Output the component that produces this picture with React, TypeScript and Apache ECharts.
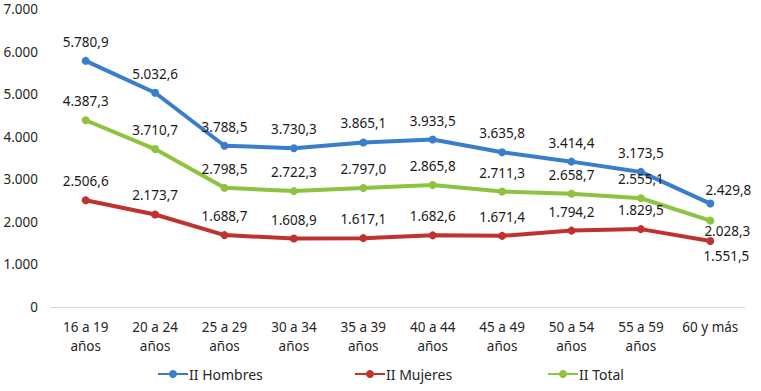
import React, { useEffect, useRef } from "react";
import * as echarts from "echarts";

const categories = [
  "16 a 19\naños",
  "20 a 24\naños",
  "25 a 29\naños",
  "30 a 34\naños",
  "35 a 39\naños",
  "40 a 44\naños",
  "45 a 49\naños",
  "50 a 54\naños",
  "55 a 59\naños",
  "60 y más",
];
const hombres = [5780.9, 5032.6, 3788.5, 3730.3, 3865.1, 3933.5, 3635.8, 3414.4, 3173.5, 2429.8];
const mujeres = [2506.6, 2173.7, 1688.7, 1608.9, 1617.1, 1682.6, 1671.4, 1794.2, 1829.5, 1551.5];
const total = [4387.3, 3710.7, 2798.5, 2722.3, 2797.0, 2865.8, 2711.3, 2658.7, 2555.1, 2028.3];
const seriesNames = ["II Hombres", "II Mujeres", "II Total"];

function fmtThousands(n: number): string {
  const s = Math.floor(Math.abs(n)).toString();
  return s.replace(/\B(?=(\d{3})+(?!\d))/g, ".");
}
function fmtValue(n: number): string {
  const intPart = fmtThousands(n);
  const dec = Math.round((n - Math.floor(n)) * 10);
  return intPart + "," + dec;
}

const FONT = "Noto Sans";

export default function App() {
  const ref = useRef<HTMLDivElement>(null);
  useEffect(() => {
    if (!ref.current) return;
    const chart = echarts.init(ref.current, null, { renderer: "svg" });
    const mk = (name: string, values: number[], color: string, lastOffset: number[]) => ({
      name,
      type: "line",
      data: values.map((v, i) =>
        i === values.length - 1
          ? { value: v, label: { offset: lastOffset } }
          : { value: v }
      ),
      symbol: "circle",
      symbolSize: 8,
      lineStyle: { width: 4, color },
      itemStyle: { color },
      label: {
        show: true,
        position: "top",
        distance: 8,
        fontFamily: FONT,
        fontSize: 13.5,
        color: "#1a1a1a",
        formatter: (p: any) => fmtValue(p.value),
      },
    });
    const legendAt = (name: string, left: number) => ({
      bottom: 10,
      left,
      itemGap: 0,
      itemWidth: 30,
      itemHeight: 10,
      padding: 0,
      textStyle: { fontFamily: FONT, fontSize: 14, color: "#262626", padding: [0, 0, 0, -4] },
      data: [name],
    });
    chart.setOption({
      animation: false,
      grid: { left: 51, right: 16, top: 9, bottom: 84 },
      legend: [
        legendAt(seriesNames[0], 157),
        legendAt(seriesNames[1], 354),
        legendAt(seriesNames[2], 547),
      ],
      xAxis: {
        type: "category",
        data: categories,
        boundaryGap: true,
        axisLine: { lineStyle: { color: "#d9d9d9", width: 1 } },
        axisTick: { show: false },
        axisLabel: {
          fontFamily: FONT,
          fontSize: 13.5,
          color: "#262626",
          margin: 10,
          lineHeight: 19,
          interval: 0,
        },
      },
      yAxis: {
        type: "value",
        min: 0,
        max: 7000,
        interval: 1000,
        axisLine: { show: false },
        axisTick: { show: false },
        splitLine: { show: false },
        axisLabel: {
          fontFamily: FONT,
          fontSize: 13.5,
          color: "#262626",
          margin: 13,
          formatter: (v: number) => fmtThousands(v),
        },
      },
      series: [
        mk(seriesNames[0], hombres, "#3a7dcc", [18, 5]),
        mk(seriesNames[1], mujeres, "#c0322d", [16, 34]),
        mk(seriesNames[2], total, "#8dc33f", [17, 29]),
      ],
    });
    return () => chart.dispose();
  }, []);
  return (
    <div
      ref={ref}
      style={{ position: "fixed", left: 0, top: 0, width: 761, height: 391, background: "#fff" }}
    />
  );
}
